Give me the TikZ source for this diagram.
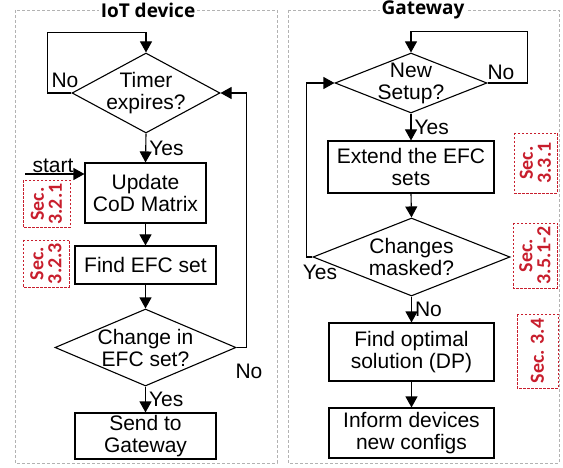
\documentclass[tikz,border=0pt]{standalone}
\usepackage{fontspec}
\setmainfont{Liberation Sans}
\newfontfamily\secfont{Carlito}
\newfontfamily\headfont{Open Sans}
\usepackage{xcolor}
\usetikzlibrary{arrows.meta,shapes.geometric}
\definecolor{secred}{RGB}{200,30,45}

\begin{document}
\begin{tikzpicture}[
  x=1pt, y=-1pt,
  font=\fontsize{21}{22}\selectfont,
  line width=1.1pt,
  arr/.style={-{Triangle[length=11pt,width=12pt]}},
  proc/.style={rectangle, draw, align=center, inner sep=0pt},
  dec/.style={diamond, draw, inner sep=0pt},
  dtext/.style={align=center, inner sep=0pt},
  frame/.style={draw=gray!60, dash pattern=on 3pt off 2pt, line width=0.8pt},
  head/.style={fill=white, inner sep=2pt, font=\headfont\bfseries\fontsize{19}{20}\selectfont},
  sec/.style={draw=secred, text=secred, dash pattern=on 2.5pt off 1.5pt, line width=0.8pt,
    rotate=90, align=center, inner sep=0pt, font=\secfont\bfseries\fontsize{20}{18}\selectfont}
]
\useasboundingbox (0,0) rectangle (563,468);

\draw[frame] (15,10) rectangle (277,463);
\draw[frame] (288,10) rectangle (559,463);
\node[head] (iot) at (148,10) {IoT device};
\node[head] (gw) at (423,10) {Gateway};

% IoT device
\node[dec, minimum width=148, minimum height=80, label={[dtext]center:Timer\\expires?}] (timer) at (146,93) {};
\node[proc, minimum width=121, minimum height=60] (update) at (145.5,193) {Update\\CoD Matrix};
\node[proc, minimum width=141, minimum height=38] (find) at (145.5,265) {Find EFC set};
\node[dec, minimum width=181, minimum height=77, label={[dtext]center:Change in\\EFC set?}] (change) at (145.5,347.5) {};
\node[proc, minimum width=141, minimum height=46] (send) at (145.5,436) {Send to\\Gateway};
\coordinate (start) at (25,174);
\node[above right, inner sep=1pt] (startlbl) at (31,174) {start};
\node (notimer) at (65,80) {No};
\node (nochange) at (249,371) {No};

\draw[arr] (timer.west) -- ++(-24,0) |- ([yshift=20pt]timer.north) -- (timer.north);
\draw[arr] (timer.south) -- node[right, inner sep=3pt] {Yes} (update.north);
\draw[arr] (start) -- (start -| update.west);
\draw[arr] (update.south) -- (find.north);
\draw[arr] (find.south) -- (change.north);
\draw[arr] (change.east) -- ++(10,0) |- (timer.east);
\draw[arr] (change.south) -- node[right, inner sep=3pt] {Yes} (send.north);

\node[sec, minimum width=47, minimum height=47] (s321) at (46.5,204) {Sec.\\3.2.1};
\node[sec, minimum width=47, minimum height=46] (s323) at (46,263.5) {Sec.\\3.2.3};

% Gateway
\node[dec, minimum width=152, minimum height=60, label={[dtext]center:New\\Setup?}] (setup) at (411,83) {};
\node[proc, minimum width=166, minimum height=52] (extend) at (411,167) {Extend the EFC\\sets};
\node[dec, minimum width=197, minimum height=78, label={[dtext]center:Changes\\masked?}] (masked) at (411.5,257) {};
\node[proc, minimum width=165, minimum height=58] (optimal) at (411.5,352) {Find optimal\\solution (DP)};
\node[proc, minimum width=165, minimum height=50] (inform) at (411.5,433) {Inform devices\\new configs};
\node (nosetup) at (501,72) {No};
\node (yesmasked) at (320,272) {Yes};

\draw[arr] (setup.east) -- ++(40,0) |- ([yshift=21pt]setup.north) -- (setup.north);
\draw[arr] (setup.south) -- node[right, inner sep=3pt] {Yes} (extend.north);
\draw[arr] (extend.south) -- (masked.north);
\draw[arr] (masked.west) -- ++(-6,0) |- (setup.west);
\draw[arr] (masked.south) -- node[right, inner sep=3pt] {No} (optimal.north);
\draw[arr] (optimal.south) -- (inform.north);

\node[sec, minimum width=60, minimum height=43] (s331) at (535.5,163) {Sec.\\3.3.1};
\node[sec, minimum width=65, minimum height=44] (s3512) at (535,255.5) {Sec.\\3.5.1-2};
\node[sec, minimum width=74, minimum height=41] (s34) at (537.5,351) {Sec. 3.4};
\end{tikzpicture}
\end{document}
